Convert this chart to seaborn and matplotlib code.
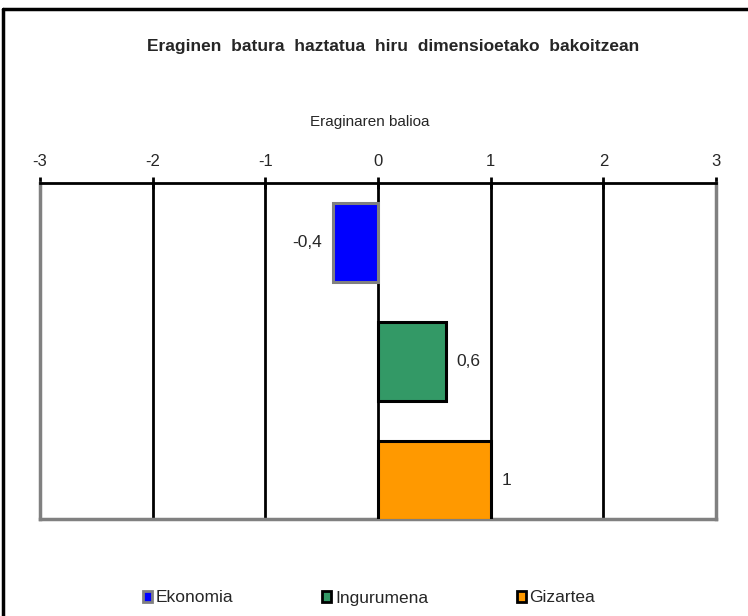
import pandas as pd
import matplotlib.pyplot as plt
import seaborn as sns
from matplotlib.patches import Patch
from matplotlib.lines import Line2D

# datuak
categories = ['Ekonomia', 'Ingurumena', 'Gizartea']
values = [-0.4, 0.6, 1.0]
bar_colors = ['#0000FF', '#339966', '#FF9900']
edge_colors = ['#808080', '#000000', '#000000']
x_ticks = [-3, -2, -1, 0, 1, 2, 3]

df = pd.DataFrame({'Dimentsioa': categories, 'Balioa': values})

sns.set_style('white')
plt.rcParams['font.family'] = ['Liberation Sans', 'DejaVu Sans']

fig = plt.figure(figsize=(7.48, 6.16), dpi=100)
ax = fig.add_axes([40 / 748, 1 - 519 / 616, 676 / 748, 336 / 616])

sns.barplot(data=df, x='Balioa', y='Dimentsioa', hue='Dimentsioa', palette=bar_colors,
            orient='h', width=0.67, legend=False, ax=ax, saturation=1)

for p, ec in zip(ax.patches, edge_colors):
    p.set_edgecolor(ec)
    p.set_linewidth(2.2)
    p.set_zorder(3)

# balioen etiketak, koma hamartarrarekin
for cont, v in zip(ax.containers, values):
    lab = f"{v:g}".replace('.', ',')
    ax.bar_label(cont, labels=[lab], padding=8, fontsize=12.5)

ax.set_xlim(-3, 3)
ax.set_ylim(2.324, -0.5)
ax.set_xticks(x_ticks)
ax.set_xticklabels([str(t) for t in x_ticks])
ax.xaxis.tick_top()
ax.xaxis.set_label_position('top')
ax.tick_params(axis='x', direction='inout', length=8, width=2, labelsize=12, pad=6, color='black')
ax.set_yticks([])
ax.set_ylabel('')
ax.set_xlabel('Eraginaren balioa', fontsize=11)
ax.xaxis.set_label_coords((370 - 40) / 676, 1 + (183 - 122) / 336)
ax.xaxis.label.set_va('center')

for t in x_ticks[1:-1]:
    ax.axvline(t, color='black', lw=2, zorder=2)

for side in ['left', 'right', 'bottom']:
    ax.spines[side].set_color('#808080')
    ax.spines[side].set_linewidth(2.5)
ax.spines['top'].set_color('black')
ax.spines['top'].set_linewidth(2)
ax.spines['top'].set_zorder(4)

fig.text(393 / 748, 1 - 47 / 616, 'Eraginen  batura  haztatua  hiru  dimensioetako  bakoitzean',
         ha='center', va='center', fontsize=12.5, fontweight='bold')

handles = [Patch(facecolor=c, edgecolor=e, linewidth=2) for c, e in zip(bar_colors, edge_colors)]
fig.legend(handles, categories, loc='center', bbox_to_anchor=(369 / 748, 1 - 598 / 616),
           ncol=3, frameon=False, fontsize=12.5, handlelength=0.55, handleheight=0.55,
           handletextpad=0.2, columnspacing=5.1)

# kanpoko markoa (goian eta ezkerrean)
fig.add_artist(Line2D([3 / 748, 1], [1 - 9 / 616, 1 - 9 / 616], color='black', lw=2.5))
fig.add_artist(Line2D([3 / 748, 3 / 748], [0, 1 - 9 / 616], color='black', lw=2.5))

fig.savefig('out.png', dpi=100)
